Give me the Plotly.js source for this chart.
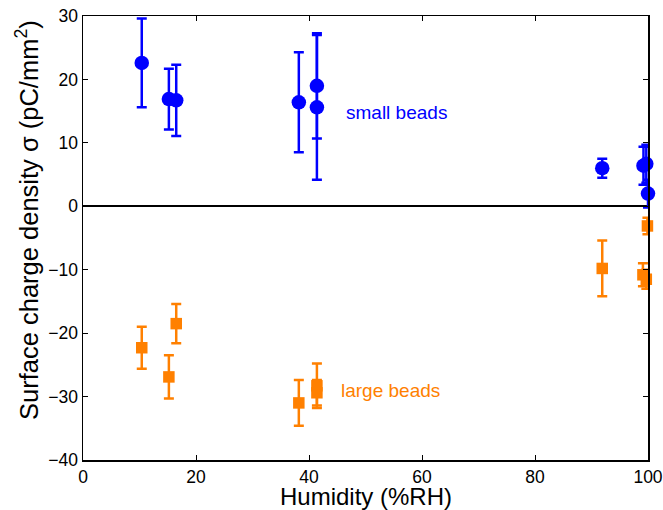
<!DOCTYPE html>
<html>
<head>
<meta charset="utf-8">
<script src="https://cdn.plot.ly/plotly-3.0.1.min.js"></script>
<style>html,body{margin:0;padding:0;background:#fff;}#chart{width:663px;height:510px;}</style>
</head>
<body>
<div id="chart"></div>
<script>
// Small beads (blue circles)
const smallHumidity = [10.4, 15.2, 16.5, 38.2, 41.4, 41.4, 91.9, 99.2, 99.7, 100.0];
const smallCharge   = [22.6, 16.9, 16.7, 16.4, 19.0, 15.6, 6.0, 6.4, 6.7, 2.0];
const smallError    = [7.0, 4.8, 5.6, 7.9, 8.3, 11.4, 1.5, 3.0, 3.0, 2.2];

// Large beads (orange squares)
const largeHumidity = [10.4, 15.2, 16.5, 38.2, 41.4, 41.4, 91.9, 99.1, 99.7, 99.9];
const largeCharge   = [-22.3, -26.9, -18.5, -31.0, -28.3, -29.4, -9.8, -10.8, -11.5, -3.1];
const largeError    = [3.3, 3.4, 3.1, 3.6, 3.5, 2.0, 4.4, 1.8, 1.5, 1.3];

const xTicks = [0, 20, 40, 60, 80, 100];
const yTicks = [-40, -30, -20, -10, 0, 10, 20, 30];

const xTitle = 'Humidity (%RH)';
const yTitle = 'Surface charge density \u03c3 (pC/mm<sup>2</sup>)';

const blue = '#0000ff';
const orange = '#ff8000';

const traces = [
  {
    x: smallHumidity, y: smallCharge, type: 'scatter', mode: 'markers',
    cliponaxis: false,
    marker: {symbol: 'circle', size: 14.5, color: blue, line: {width: 0}},
    error_y: {type: 'data', array: smallError, visible: true, color: blue, thickness: 2.5, width: 5}
  },
  {
    x: largeHumidity, y: largeCharge, type: 'scatter', mode: 'markers',
    cliponaxis: false,
    marker: {symbol: 'square', size: 11.5, color: orange, line: {width: 0}},
    error_y: {type: 'data', array: largeError, visible: true, color: orange, thickness: 2.5, width: 5}
  }
];

const layout = {
  width: 663, height: 510,
  margin: {l: 83, r: 15, t: 16, b: 50},
  paper_bgcolor: '#ffffff', plot_bgcolor: '#ffffff',
  showlegend: false,
  font: {family: 'Liberation Sans, Arial, sans-serif', color: '#000', size: 17.5},
  xaxis: {
    range: [0, 100], tickvals: xTicks, ticktext: xTicks.map(String),
    ticks: 'inside', ticklen: 5, tickwidth: 1, tickcolor: '#000',
    showline: true, linecolor: '#000', linewidth: 1.5, mirror: 'ticks',
    showgrid: false, zeroline: false,
    tickfont: {size: 17.5}
  },
  yaxis: {
    range: [-40, 30], tickvals: yTicks, ticktext: yTicks.map(v => v < 0 ? '\u2212' + Math.abs(v) : String(v)),
    ticks: 'inside', ticklen: 5, tickwidth: 1, tickcolor: '#000',
    showline: true, linecolor: '#000', linewidth: 1.5, mirror: 'ticks',
    showgrid: false, zeroline: true, zerolinecolor: '#000', zerolinewidth: 2,
    tickfont: {size: 17.5}
  },
  annotations: [
    {x: 0.5, y: 0, xref: 'paper', yref: 'paper', text: xTitle, showarrow: false,
     xanchor: 'center', yanchor: 'bottom', yshift: -51, borderpad: 0,
     font: {size: 24, color: '#000'}},
    {x: 0, y: 0.5, xref: 'paper', yref: 'paper', text: yTitle, showarrow: false,
     textangle: -90, xanchor: 'center', yanchor: 'middle', xshift: -56, yshift: 18,
     font: {size: 25.5, color: '#000'}},
    {x: 46.2, y: 14.8, xref: 'x', yref: 'y', text: 'small beads', showarrow: false,
     xanchor: 'left', yanchor: 'middle', font: {size: 19, color: blue}},
    {x: 45.3, y: -29.1, xref: 'x', yref: 'y', text: 'large beads', showarrow: false,
     xanchor: 'left', yanchor: 'middle', font: {size: 19, color: orange}}
  ]
};

Plotly.newPlot('chart', traces, layout, {displayModeBar: false, staticPlot: true});
</script>
</body>
</html>
